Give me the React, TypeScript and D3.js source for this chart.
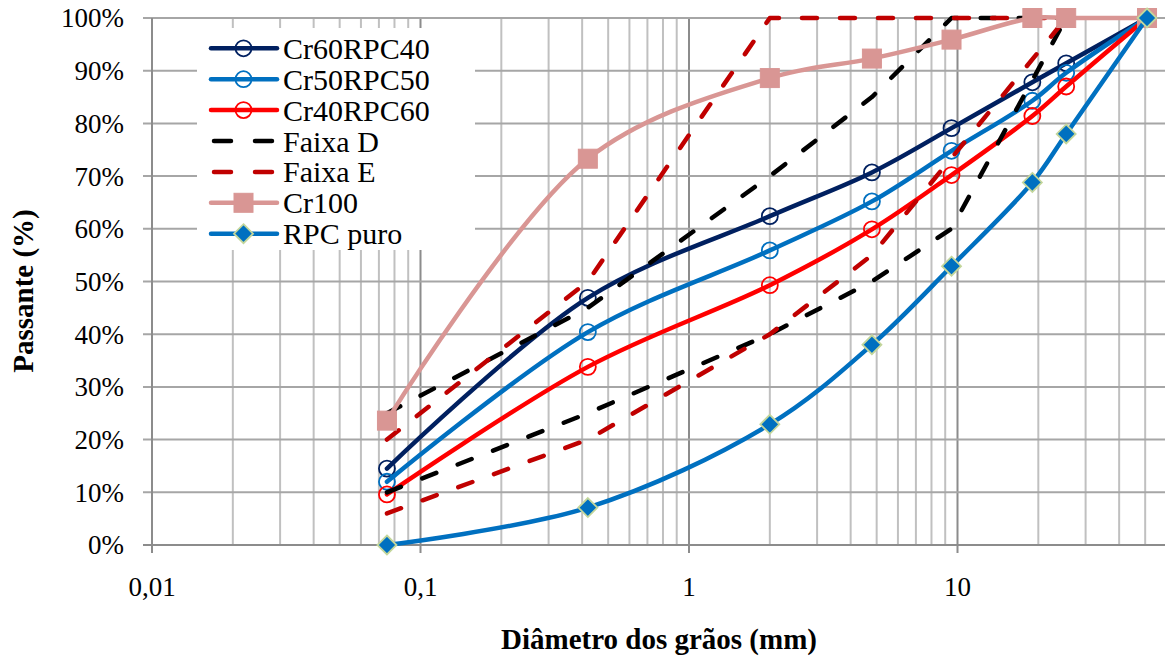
import React from "react";
import * as d3 from "d3";

// ---- Data ----
const sieves = [0.075, 0.42, 2.0, 4.8, 9.5, 19, 25.4, 50.8];
const cr60rpc40 = [14.5, 46.9, 62.4, 70.7, 79.1, 87.8, 91.4, 100];
const cr50rpc50 = [12.0, 40.4, 55.9, 65.2, 74.8, 84.3, 89.6, 100];
const cr40rpc60 = [9.6, 33.8, 49.3, 59.9, 70.2, 81.4, 87.0, 100];
const cr100 = [23.6, 73.3, 88.6, 92.3, 95.9, 100, 100, 100];
const rpcPuro = [0, 7.1, 22.9, 38.0, 52.9, 68.8, 78.0, 100];

const faixaDSieves = [0.075, 0.42, 2.0, 4.8, 9.5, 25.4];
const faixaDMin = [10, 25, 40, 50, 60, 100];
const faixaDMax = [25, 45, 70, 85, 100, 100];

const faixaESieves = [0.075, 0.42, 2.0, 4.8, 25.4];
const faixaEMin = [6, 20, 40, 55, 100];
const faixaEMax = [20, 50, 100, 100, 100];

const xTickValues = [0.01, 0.1, 1, 10];
const xTickLabels = ["0,01", "0,1", "1", "10"];
const yTickValues = [0, 10, 20, 30, 40, 50, 60, 70, 80, 90, 100];

type Marker = "circle" | "square" | "diamond" | "none";
interface Series {
  name: string;
  xs: number[];
  ys: number[];
  color: string;
  dashed?: boolean;
  smooth?: boolean;
  marker: Marker;
  markerFill?: string;
  markerStroke?: string;
  legend: boolean;
}

const seriesList: Series[] = [
  { name: "Cr60RPC40", xs: sieves, ys: cr60rpc40, color: "#002060", smooth: true, marker: "circle", legend: true },
  { name: "Cr50RPC50", xs: sieves, ys: cr50rpc50, color: "#0070C0", smooth: true, marker: "circle", legend: true },
  { name: "Cr40RPC60", xs: sieves, ys: cr40rpc60, color: "#FF0000", smooth: true, marker: "circle", legend: true },
  { name: "Faixa D", xs: faixaDSieves, ys: faixaDMax, color: "#000000", dashed: true, marker: "none", legend: true },
  { name: "Faixa D min", xs: faixaDSieves, ys: faixaDMin, color: "#000000", dashed: true, marker: "none", legend: false },
  { name: "Faixa E", xs: faixaESieves, ys: faixaEMax, color: "#C00000", dashed: true, marker: "none", legend: true },
  { name: "Faixa E min", xs: faixaESieves, ys: faixaEMin, color: "#C00000", dashed: true, marker: "none", legend: false },
  { name: "Cr100", xs: sieves, ys: cr100, color: "#D99694", smooth: true, marker: "square", markerFill: "#D99694", legend: true },
  { name: "RPC puro", xs: sieves, ys: rpcPuro, color: "#0070C0", smooth: true, marker: "diamond", markerFill: "#0070C0", markerStroke: "#C3D69B", legend: true },
];

const W = 1165;
const H = 657;
const FONT = "'Liberation Serif', 'Times New Roman', serif";

const x = d3.scaleLog().domain([0.01, 100]).range([152, 1226]);
const y = d3.scaleLinear().domain([0, 100]).range([545, 18]);

function MarkerShape({ s, cx, cy }: { s: Series; cx: number; cy: number }) {
  if (s.marker === "circle") {
    return <circle cx={cx} cy={cy} r={8} fill="none" stroke={s.color} strokeWidth={1.8} />;
  }
  if (s.marker === "square") {
    return <rect x={cx - 9.5} y={cy - 9.5} width={19} height={19} fill={s.markerFill} stroke={s.markerFill} strokeWidth={1} />;
  }
  if (s.marker === "diamond") {
    const r = 9.5;
    return (
      <path
        d={`M${cx},${cy - r}L${cx + r},${cy}L${cx},${cy + r}L${cx - r},${cy}Z`}
        fill={s.markerFill}
        stroke={s.markerStroke}
        strokeWidth={1.8}
      />
    );
  }
  return null;
}

export default function App() {
  const gridX = x.ticks().filter((v) => v > 0.0100001);
  const isMajor = (v: number) => Math.abs(Math.log10(v) - Math.round(Math.log10(v))) < 1e-6;

  const legendItems = seriesList.filter((s) => s.legend);
  const legendY0 = 48.3;
  const legendStep = 30.9;

  return (
    <svg
      width={W}
      height={H}
      style={{ position: "absolute", left: 0, top: 0, background: "#fff", fontFamily: FONT }}
    >
      <rect x={0} y={0} width={W} height={H} fill="#fff" />
      {/* vertical gridlines */}
      {gridX.map((v, i) => (
        <line
          key={"gx" + i}
          x1={x(v)}
          x2={x(v)}
          y1={y(100)}
          y2={isMajor(v) ? 553 : y(0)}
          stroke={isMajor(v) ? "#8c8c8c" : "#c0c0c0"}
          strokeWidth={2}
        />
      ))}
      {/* horizontal gridlines */}
      {yTickValues.map((v) => (
        <line key={"gy" + v} x1={143} x2={W + 70} y1={y(v)} y2={y(v)} stroke={v === 0 ? "#8c8c8c" : "#a6a6a6"} strokeWidth={2} />
      ))}
      {/* y axis */}
      <line x1={x(0.01)} x2={x(0.01)} y1={y(100)} y2={553} stroke="#8c8c8c" strokeWidth={2} />

      {/* y tick labels */}
      {yTickValues.map((v) => (
        <text key={"yl" + v} x={124} y={y(v)} dy="0.35em" textAnchor="end" fontSize={27} fill="#000">
          {v + "%"}
        </text>
      ))}
      {/* x tick labels */}
      {xTickValues.map((v, i) => (
        <text key={"xl" + v} x={x(v)} y={596} textAnchor="middle" fontSize={27} fill="#000">
          {xTickLabels[i]}
        </text>
      ))}

      {/* axis titles */}
      <text x={659} y={649} textAnchor="middle" fontSize={29} fontWeight="bold" fill="#000">
        Diâmetro dos grãos (mm)
      </text>
      <text transform="translate(33,291) rotate(-90)" textAnchor="middle" fontSize={29} fontWeight="bold" fill="#000">
        Passante (%)
      </text>

      {/* legend background */}
      <rect x={197} y={28} width={278} height={222} fill="#fff" />

      {/* series */}
      {seriesList.map((s, si) => {
        const pts: [number, number][] = s.xs.map((xv, i) => [x(xv), y(s.ys[i])]);
        const gen = d3
          .line()
          .curve(s.smooth ? d3.curveCatmullRom.alpha(0.5) : d3.curveLinear);
        return (
          <g key={"s" + si}>
            <path
              d={gen(pts) || ""}
              fill="none"
              stroke={s.color}
              strokeWidth={4.5}
              strokeLinecap="round"
              strokeLinejoin="round"
              strokeDasharray={s.dashed ? "15 23" : undefined}
            />
            {pts.map((p, i) => (
              <MarkerShape key={i} s={s} cx={p[0]} cy={p[1]} />
            ))}
          </g>
        );
      })}

      {/* legend */}
      {legendItems.map((s, i) => {
        const cy = legendY0 + i * legendStep;
        return (
          <g key={"lg" + i}>
            <line
              x1={s.dashed ? 214 : 211}
              x2={s.dashed ? 274 : 277}
              y1={cy}
              y2={cy}
              stroke={s.color}
              strokeWidth={4.5}
              strokeLinecap="round"
              strokeDasharray={s.dashed ? "17 24" : undefined}
            />
            <MarkerShape s={s} cx={243.5} cy={cy} />
            <text x={283} y={cy} dy="0.35em" fontSize={30} fill="#000">
              {s.name}
            </text>
          </g>
        );
      })}
    </svg>
  );
}
